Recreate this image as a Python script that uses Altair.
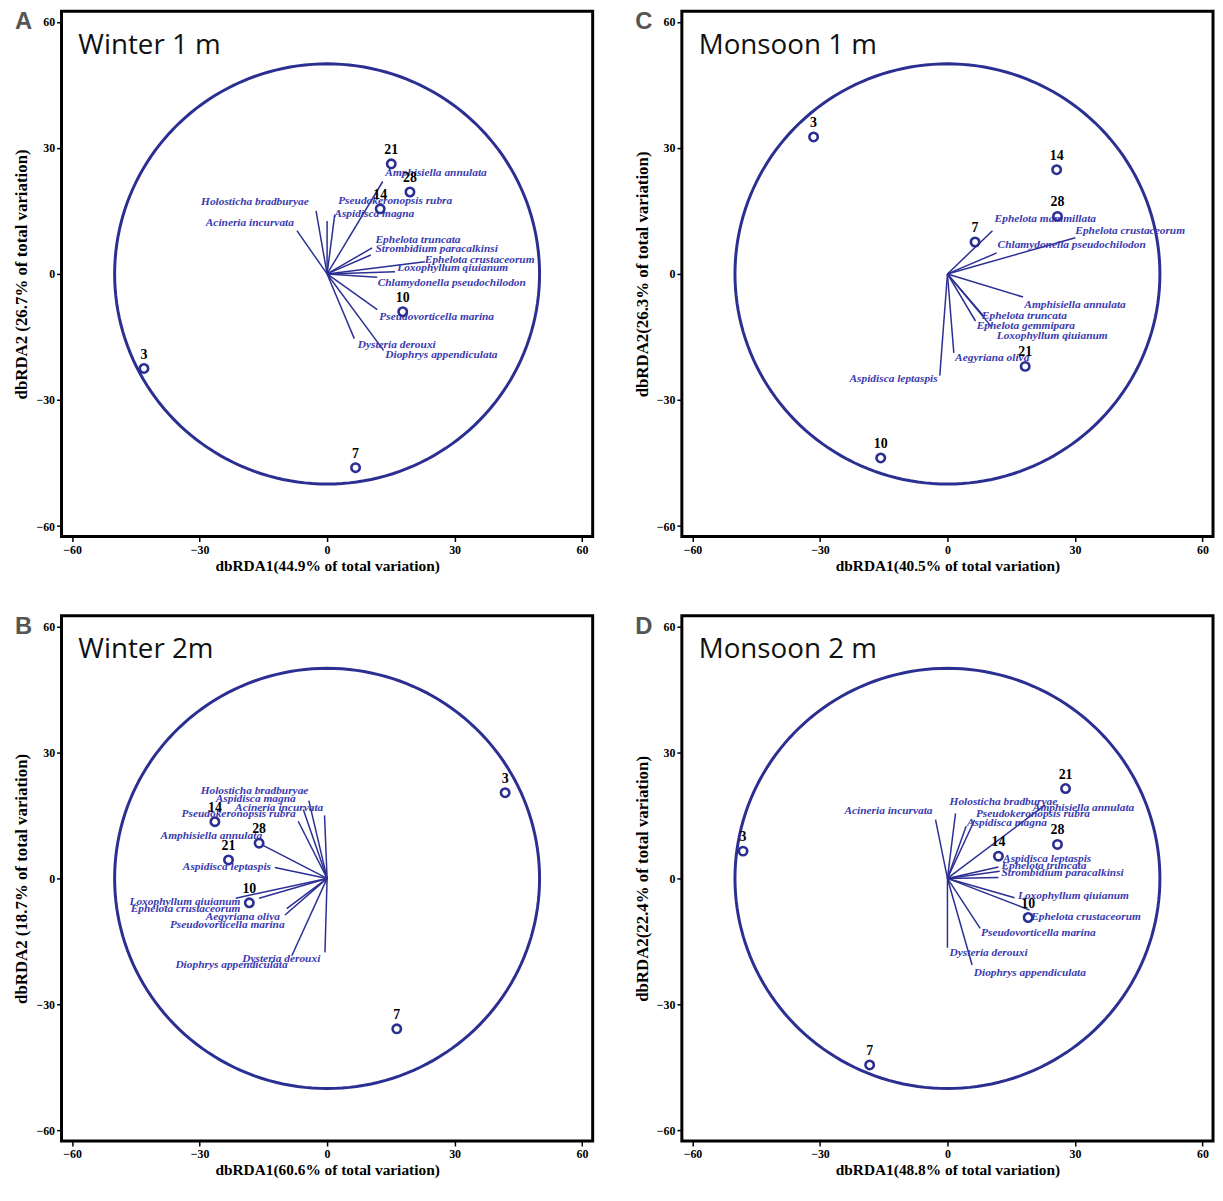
import altair as alt
import pandas as pd

BLUE = "#2B2F92"
LABEL_BLUE = "#3A3AAE"
CIRCLE_R = 50
TICKS = [-60, -30, 0, 30, 60]

# ---------------- Panel A : Winter 1 m ----------------
A_title = "Winter 1 m"
A_xtitle = "dbRDA1(44.9% of total variation)"
A_ytitle = "dbRDA2 (26.7% of total variation)"
A_sites = ["21", "28", "14", "10", "3", "7"]
A_site_x = [15.1, 19.5, 12.5, 17.8, -43.1, 6.7]
A_site_y = [26.2, 19.5, 15.5, -9.0, -22.5, -46.1]
A_species = ["Holosticha bradburyae", "Acineria incurvata", "Pseudokeronopsis rubra",
             "Aspidisca magna", "Amphisiella annulata", "Ephelota truncata",
             "Strombidium paracalkinsi", "Ephelota crustaceorum", "Loxophyllum qiuianum",
             "Chlamydonella pseudochilodon", "Pseudovorticella marina", "Dysteria derouxi",
             "Diophrys appendiculata"]
A_vec_x = [-2.6, -7.1, 1.8, 0.0, 13.1, 10.6, 10.3, 23.0, 16.0, 11.8, 11.8, 6.4, 13.3]
A_vec_y = [15.0, 10.3, 14.1, 12.6, 22.0, 6.2, 4.5, 2.9, 0.5, -0.8, -8.5, -15.4, -18.2]
A_lab_x = [-4.3, -7.8, 2.6, 1.7, 13.7, 11.4, 11.4, 23.0, 16.5, 11.9, 12.3, 7.2, 13.7]
A_lab_y = [17.0, 12.1, 17.4, 14.2, 24.0, 8.0, 5.9, 3.4, 1.5, -2.2, -10.3, -16.8, -19.3]
A_lab_align = ["right", "right"] + ["left"] * 11

# ---------------- Panel C : Monsoon 1 m ----------------
C_title = "Monsoon 1 m"
C_xtitle = "dbRDA1(40.5% of total variation)"
C_ytitle = "dbRDA2(26.3% of total variation)"
C_sites = ["3", "14", "28", "7", "21", "10"]
C_site_x = [-31.5, 25.7, 25.9, 6.5, 18.3, -15.7]
C_site_y = [32.6, 24.8, 13.7, 7.6, -22.0, -43.8]
C_species = ["Ephelota mammillata", "Chlamydonella pseudochilodon", "Ephelota crustaceorum",
             "Amphisiella annulata", "Ephelota truncata", "Ephelota gemmipara",
             "Loxophyllum qiuianum", "Aegyriana oliva", "Aspidisca leptaspis"]
C_vec_x = [10.6, 11.6, 30.1, 17.8, 8.5, 6.6, 10.4, 1.5, -1.8]
C_vec_y = [10.3, 5.0, 8.6, -5.5, -10.0, -11.2, -12.6, -18.8, -24.2]
C_lab_x = [11.1, 11.8, 30.1, 18.1, 8.1, 6.9, 11.6, 1.8, -2.3]
C_lab_y = [13.0, 7.0, 10.2, -7.3, -9.9, -12.4, -14.7, -19.9, -25.1]
C_lab_align = ["left"] * 8 + ["right"]

# ---------------- Panel B : Winter 2m ----------------
B_title = "Winter 2m"
B_xtitle = "dbRDA1(60.6% of total variation)"
B_ytitle = "dbRDA2 (18.7% of total variation)"
B_sites = ["3", "14", "28", "21", "10", "7"]
B_site_x = [41.9, -26.4, -16.0, -23.2, -18.3, 16.4]
B_site_y = [20.4, 13.5, 8.4, 4.4, -5.8, -35.8]
B_species = ["Holosticha bradburyae", "Aspidisca magna", "Acineria incurvata",
             "Pseudokeronopsis rubra", "Amphisiella annulata", "Aspidisca leptaspis",
             "Loxophyllum qiuianum", "Ephelota crustaceorum", "Aegyriana oliva",
             "Pseudovorticella marina", "Dysteria derouxi", "Diophrys appendiculata"]
B_vec_x = [-4.3, -5.6, -0.6, -6.8, -15.3, -12.3, -21.5, -16.0, -9.5, -9.9, -0.5, -8.3]
B_vec_y = [18.5, 16.4, 15.0, 13.6, 8.0, 2.6, -4.7, -4.7, -7.2, -8.7, -17.6, -18.4]
B_lab_x = [-4.4, -7.4, -0.9, -7.4, -15.3, -13.2, -20.4, -20.4, -11.1, -10.0, -1.6, -9.3]
B_lab_y = [20.9, 18.8, 16.7, 15.3, 10.0, 2.8, -5.6, -7.4, -9.1, -11.2, -19.1, -20.7]
B_lab_align = ["right"] * 12

# ---------------- Panel D : Monsoon 2 m ----------------
D_title = "Monsoon 2 m"
D_xtitle = "dbRDA1(48.8% of total variation)"
D_ytitle = "dbRDA2(22.4% of total variation)"
D_sites = ["3", "21", "28", "14", "10", "7"]
D_site_x = [-48.1, 27.8, 25.9, 12.0, 19.0, -18.3]
D_site_y = [6.5, 21.4, 8.1, 5.3, -9.3, -44.4]
D_species = ["Acineria incurvata", "Holosticha bradburyae", "Pseudokeronopsis rubra",
             "Aspidisca magna", "Amphisiella annulata", "Aspidisca leptaspis",
             "Ephelota truncata", "Strombidium paracalkinsi", "Loxophyllum qiuianum",
             "Ephelota crustaceorum", "Pseudovorticella marina", "Dysteria derouxi",
             "Diophrys appendiculata"]
D_vec_x = [-2.8, 1.9, 6.4, 4.4, 23.0, 12.0, 12.3, 12.0, 15.8, 19.3, 7.7, 0.0, 5.8]
D_vec_y = [14.0, 15.5, 13.9, 12.4, 17.5, 2.7, 1.7, 0.2, -4.6, -7.5, -11.9, -16.5, -20.6]
D_lab_x = [-3.5, 0.5, 6.7, 4.6, 20.1, 13.1, 12.7, 12.7, 16.6, 19.7, 7.9, 0.5, 6.2]
D_lab_y = [16.1, 18.1, 15.4, 13.2, 16.7, 4.5, 3.0, 1.3, -4.3, -9.3, -13.1, -17.8, -22.4]
D_lab_align = ["right"] + ["left"] * 12

W, H = 536, 530
SCALE = alt.Scale(domain=[-62.5, 62.5], nice=False, zero=False)


def panel(letter, title, xtitle, ytitle, sites, sx, sy, species, vx, vy, lx, ly, la):
    xax = alt.Axis(values=TICKS, title=xtitle, titlePadding=3, labelPadding=3, titleFontSize=15.5)
    yax = alt.Axis(values=TICKS, title=ytitle, titlePadding=5, labelPadding=2, titleFontSize=17)

    def X(f):
        return alt.X(f, type="quantitative", scale=SCALE, axis=xax)

    def Y(f):
        return alt.Y(f, type="quantitative", scale=SCALE, axis=yax)

    circle = (
        alt.Chart(alt.sequence(0, 361, 2, as_="t"))
        .transform_calculate(cx=f"{CIRCLE_R}*cos(datum.t*PI/180)",
                             cy=f"{CIRCLE_R}*sin(datum.t*PI/180)")
        .mark_line(color=BLUE, strokeWidth=3)
        .encode(x=X("cx"), y=Y("cy"), order="t:Q")
    )
    vdf = pd.DataFrame({"sp": species, "vx": vx, "vy": vy, "lx": lx, "ly": ly, "al": la})
    rules = (
        alt.Chart(vdf)
        .transform_calculate(o="0")
        .mark_rule(color=BLUE, strokeWidth=1.5)
        .encode(x=X("o"), y=Y("o"), x2="vx:Q", y2="vy:Q")
    )
    txt_kw = dict(font="Liberation Serif", fontStyle="italic", fontWeight="bold",
                  fontSize=11.5, color=LABEL_BLUE, baseline="middle")
    lab_l = (
        alt.Chart(vdf).transform_filter("datum.al == 'left'")
        .mark_text(align="left", **txt_kw)
        .encode(x=X("lx"), y=Y("ly"), text="sp:N")
    )
    lab_r = (
        alt.Chart(vdf).transform_filter("datum.al == 'right'")
        .mark_text(align="right", **txt_kw)
        .encode(x=X("lx"), y=Y("ly"), text="sp:N")
    )
    sdf = pd.DataFrame({"site": sites, "sx": sx, "sy": sy})
    pts = (
        alt.Chart(sdf)
        .mark_point(shape="circle", filled=False, size=72, strokeWidth=2.6, color=BLUE, opacity=1)
        .encode(x=X("sx"), y=Y("sy"))
    )
    pt_lab = (
        alt.Chart(sdf)
        .mark_text(font="Liberation Serif", fontWeight="bold", fontSize=14, color="black",
                   dy=-14, baseline="middle")
        .encode(x=X("sx"), y=Y("sy"), text="site:N")
    )
    cap = (
        alt.Chart(pd.DataFrame({"c": [title]}))
        .mark_text(font="Open Sans", fontSize=28, color="#111111", align="left", baseline="middle")
        .encode(x=alt.value(17), y=alt.value(35), text="c:N")
    )
    let = (
        alt.Chart(pd.DataFrame({"c": [letter]}))
        .mark_text(font="Liberation Sans", fontWeight="bold", fontSize=24, color="#555555",
                   align="left", baseline="middle")
        .encode(x=alt.value(-47), y=alt.value(11), text="c:N")
    )
    return alt.layer(circle, rules, lab_l, lab_r, pts, pt_lab, cap, let).properties(width=W, height=H)


pA = panel("A", A_title, A_xtitle, A_ytitle, A_sites, A_site_x, A_site_y, A_species,
           A_vec_x, A_vec_y, A_lab_x, A_lab_y, A_lab_align)
pC = panel("C", C_title, C_xtitle, C_ytitle, C_sites, C_site_x, C_site_y, C_species,
           C_vec_x, C_vec_y, C_lab_x, C_lab_y, C_lab_align)
pB = panel("B", B_title, B_xtitle, B_ytitle, B_sites, B_site_x, B_site_y, B_species,
           B_vec_x, B_vec_y, B_lab_x, B_lab_y, B_lab_align)
pD = panel("D", D_title, D_xtitle, D_ytitle, D_sites, D_site_x, D_site_y, D_species,
           D_vec_x, D_vec_y, D_lab_x, D_lab_y, D_lab_align)

chart = (
    alt.vconcat(alt.hconcat(pA, pC, spacing=37), alt.hconcat(pB, pD, spacing=37), spacing=38)
    .properties(padding={"left": 3, "top": -5, "right": 0, "bottom": 0})
    .configure_view(stroke="black", strokeWidth=3)
    .configure_axis(grid=False, domain=False, tickColor="black", tickSize=5, tickWidth=1.5,
                    labelFont="Liberation Serif", labelFontWeight="bold", labelFontSize=12,
                    labelColor="black", titleFont="Liberation Serif", titleFontWeight="bold",
                    titleColor="black")
)

chart.save("out.html", embed_options={"renderer": "svg", "actions": False})
